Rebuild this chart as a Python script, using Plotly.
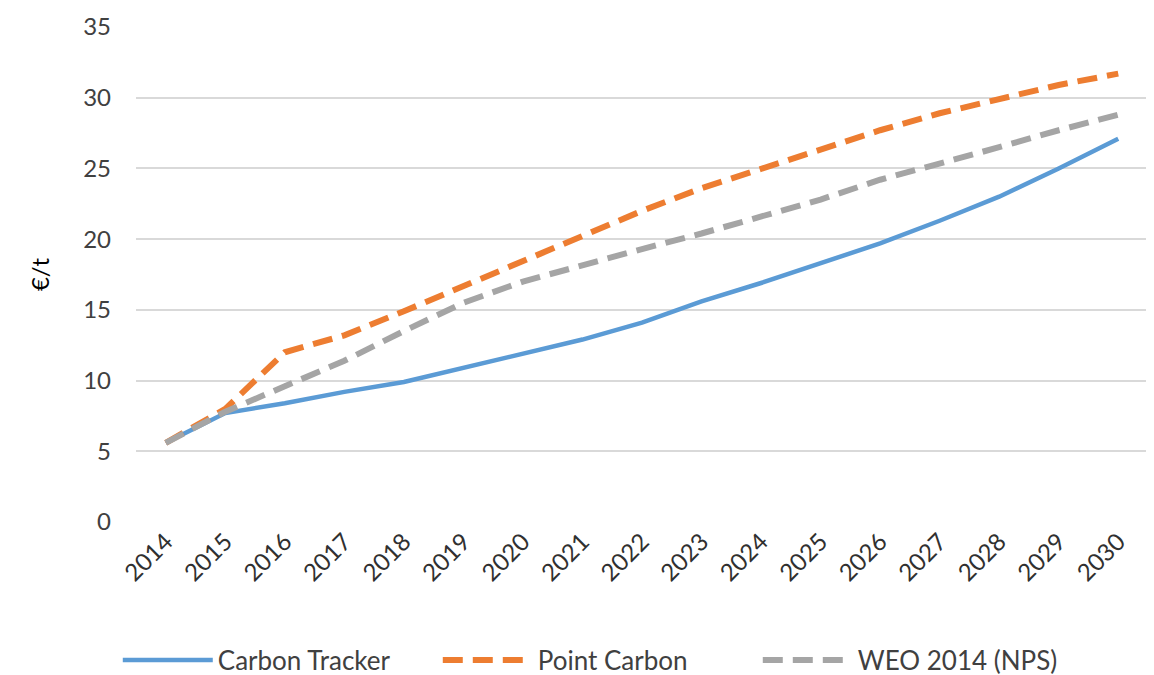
import plotly.graph_objects as go

years = [str(y) for y in range(2014, 2031)]
carbon_tracker = [5.6, 7.7, 8.4, 9.2, 9.9, 10.9, 11.9, 12.9, 14.1, 15.6, 16.9, 18.3, 19.7, 21.3, 23.0, 25.0, 27.1]
point_carbon = [5.6, 8.0, 12.0, 13.2, 14.9, 16.7, 18.4, 20.3, 22.0, 23.6, 25.0, 26.3, 27.7, 28.9, 29.9, 30.9, 31.7]
weo_2014 = [5.6, 7.8, 9.6, 11.4, 13.5, 15.5, 17.0, 18.2, 19.3, 20.4, 21.6, 22.8, 24.2, 25.3, 26.5, 27.7, 28.8]

y_ticks = [0, 5, 10, 15, 20, 25, 30, 35]

FONT = "Lato, 'Open Sans', sans-serif"

fig = go.Figure()
fig.add_trace(go.Scatter(x=years, y=carbon_tracker, mode="lines", name="Carbon Tracker",
                         line=dict(color="#5B9BD5", width=4.5)))
fig.add_trace(go.Scatter(x=years, y=point_carbon, mode="lines", name="Point Carbon",
                         line=dict(color="#ED7D31", width=6, dash="20px,10px")))
fig.add_trace(go.Scatter(x=years, y=weo_2014, mode="lines", name="WEO 2014 (NPS)",
                         line=dict(color="#A5A5A5", width=6, dash="20px,10px")))

fig.update_layout(
    width=1154, height=675,
    margin=dict(l=128, r=14, t=19, b=161, autoexpand=False),
    paper_bgcolor="white", plot_bgcolor="white",
    font=dict(family=FONT, color="#404040", size=20),
    showlegend=True,
    legend=dict(orientation="h", x=-0.018, xanchor="left", y=-0.279, yanchor="middle",
                font=dict(size=26, color="#404040"), itemwidth=90, tracegroupgap=0,
                entrywidth=215),
    xaxis=dict(type="category", range=[-0.5, 16.5], tickangle=-45, showgrid=False,
               showline=False, ticks="", tickfont=dict(size=24, color="#303030"),
               automargin=False),
    yaxis=dict(range=[0, 35], tickvals=y_ticks, showgrid=True, gridcolor="#D9D9D9",
               gridwidth=1.5, zeroline=False, showline=False, ticks="",
               ticklabelstandoff=24, tickfont=dict(size=24, color="#404040"),
               title=dict(text="€/t", font=dict(size=24, color="#000000"), standoff=26),
               automargin=False),
)

fig.write_html("out.html")
